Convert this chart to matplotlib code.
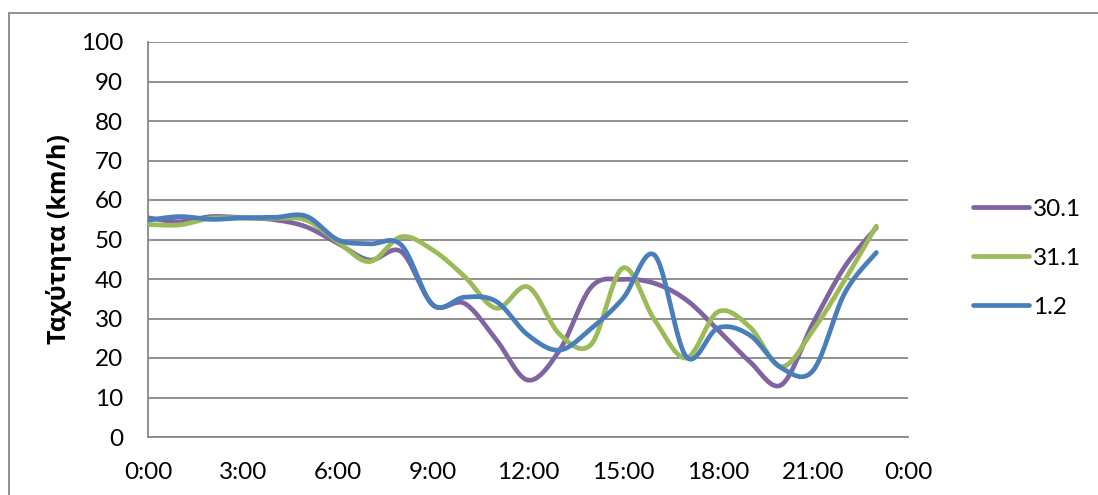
import numpy as np
import matplotlib
matplotlib.use("Agg")
import matplotlib.pyplot as plt
from matplotlib.patches import Rectangle

# hourly average speed (km/h) for three days
hours = list(range(24))
speed_30_1 = [55.5, 54.5, 55.8, 55.5, 55.0, 53.2, 49.0, 44.8, 46.9, 33.4, 33.8, 24.6,
              14.4, 22.0, 38.0, 39.9, 38.9, 34.7, 27.1, 19.1, 13.2, 28.8, 43.1, 53.0]
speed_31_1 = [53.8, 53.7, 55.4, 55.4, 55.4, 54.9, 49.4, 44.4, 50.7, 47.3, 40.6, 32.6,
              38.0, 26.0, 23.5, 42.8, 29.6, 20.0, 31.7, 27.9, 17.8, 27.0, 39.7, 53.4]
speed_1_2 = [54.9, 55.8, 55.1, 55.5, 55.6, 55.9, 49.9, 48.9, 48.6, 33.4, 35.4, 34.3,
             25.8, 22.0, 27.5, 35.1, 46.0, 20.3, 27.6, 25.8, 17.5, 16.8, 36.4, 46.7]
labels = ["30.1", "31.1", "1.2"]
colors = ["#8064A2", "#9BBB59", "#4A7EBB"]
tick_hours = list(range(0, 25, 3))
tick_labels = [f"{h % 24}:00" for h in tick_hours]


def smooth(x, y, n=30):
    # catmull-rom curve through the points, like a smoothed line in a spreadsheet
    x = np.asarray(x, float)
    y = np.asarray(y, float)
    px = np.concatenate([[x[0]], x, [x[-1]]])
    py = np.concatenate([[y[0]], y, [y[-1]]])
    xs, ys = [], []
    t = np.linspace(0, 1, n)
    for i in range(1, len(px) - 2):
        for p, out in ((px, xs), (py, ys)):
            p0, p1, p2, p3 = p[i - 1], p[i], p[i + 1], p[i + 2]
            b1 = p1 + (p2 - p0) / 6
            b2 = p2 - (p3 - p1) / 6
            out.append((1 - t) ** 3 * p1 + 3 * (1 - t) ** 2 * t * b1
                       + 3 * (1 - t) * t ** 2 * b2 + t ** 3 * p2)
    return np.concatenate(xs), np.concatenate(ys)


plt.rcParams['font.family'] = ['Lato', 'Open Sans', 'DejaVu Sans']

fig = plt.figure(figsize=(10.98, 4.95), dpi=100)
ax = fig.add_axes([148 / 1098, 1 - 437 / 495, 760 / 1098, 395 / 495])

grid_col = "#878787"
for s, lab, c in zip([speed_30_1, speed_31_1, speed_1_2], labels, colors):
    sx, sy = smooth(hours, s)
    ax.plot(sx, sy, color=c, lw=3.4, label=lab, solid_capstyle='round', zorder=3)

ax.set_xlim(0, 24)
ax.set_ylim(0, 100)
ax.set_yticks(range(0, 101, 10))
ax.set_xticks(tick_hours)
ax.set_xticklabels(tick_labels)
ax.yaxis.grid(True, color=grid_col, lw=1.3)
ax.set_axisbelow(True)
for side in ["top", "right"]:
    ax.spines[side].set_visible(False)
for side in ["left", "bottom"]:
    ax.spines[side].set_color(grid_col)
    ax.spines[side].set_linewidth(1.3)
ax.tick_params(length=0, labelsize=17.5, colors="black")
ax.tick_params(axis='y', pad=18)
ax.tick_params(axis='x', pad=18)

ax.set_ylabel("Ταχύτητα (km/h)", fontsize=18, fontweight='bold',
              family=['Open Sans', 'DejaVu Sans'])
ax.yaxis.set_label_coords(-0.1, 0.5)

leg = ax.legend(loc='center left', bbox_to_anchor=(1.057, 0.453), frameon=False,
                fontsize=17.5, handlelength=2.3, handletextpad=0.15, labelspacing=1.15)

# outer chart border
fig.patches.append(Rectangle((9 / 1098, -0.1), 1.2, 1 - 13 / 495 + 0.1,
                             transform=fig.transFigure, fill=False,
                             edgecolor=grid_col, lw=1.3))

fig.savefig("out.png", dpi=100)
